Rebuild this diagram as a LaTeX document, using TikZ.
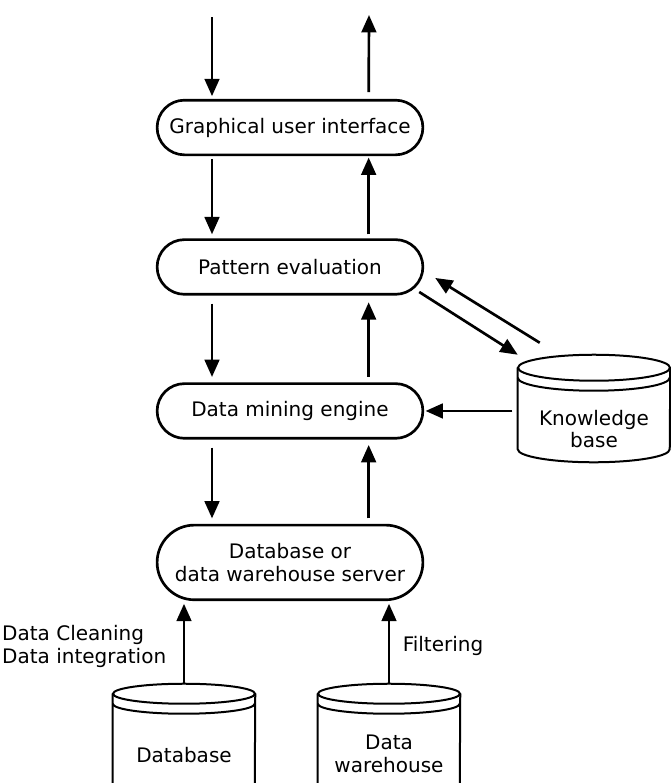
\documentclass[tikz,border=0pt]{standalone}
\usepackage{fontspec}
\setmainfont{DejaVu Sans}
\usetikzlibrary{arrows.meta, shapes.misc}

% drum outline drawn round a node: name, x radius, y radius
\newcommand{\drum}[3]{%
  \draw[drum] ([yshift=-#3]#1.north) ellipse [x radius=#2, y radius=#3];
  \draw[drum] ([yshift=-#3-7.5pt]#1.north west) arc [start angle=180, end angle=360, x radius=#2, y radius=#3];
  \draw[drum] ([yshift=-#3]#1.north west) -- ([yshift=#3]#1.south west)
    arc [start angle=180, end angle=360, x radius=#2, y radius=#3] -- ([yshift=-#3]#1.north east);
}

\begin{document}
\begin{tikzpicture}[x=0.75pt, y=-0.75pt, node distance=108pt,
    font=\fontsize{15}{17}\selectfont,
    box/.style={draw, line width=2pt, rounded rectangle, minimum width=206pt, minimum height=41pt, align=center},
    flow/.style={-{Triangle[length=13pt,width=11pt]}, line width=2pt},
    drum/.style={line width=1.5pt}]
        \useasboundingbox (0,0) rectangle (671,783);

        \node (GUI) [box] at (290,127.5)                                 {Graphical user interface};
        \node (PE)  [box, node distance=104.6pt, below of=GUI]            {Pattern evaluation};
        \node (DME) [box, below of=PE]                                    {Data mining engine};
        \node (S)   [box, minimum height=56pt, node distance=113.6pt, below of=DME] {Database or\\data warehouse server};

        \node (KB) [minimum width=114pt, minimum height=80.25pt] at (594,408.5) {};
        \node (DB) [minimum width=106.5pt, minimum height=87pt] at (184,742) {};
        \node (DW) [minimum width=106.5pt, minimum height=87pt] at (389,742) {};
        \drum{KB}{57pt}{9.75pt}
        \drum{DB}{53.25pt}{7.5pt}
        \drum{DW}{53.25pt}{7.5pt}
        \node (KBt) [align=center] at (594,429) {Knowledge\\base};
        \node (DBt)                at (184,755) {Database};
        \node (DWt) [align=center] at (389,754) {Data\\warehouse};

        \coordinate (in)  at (212,17);
        \coordinate (out) at (369,15);

        \draw[flow, shorten >=2pt] (in) -- ([xshift=-58.5pt]GUI.north);
        \draw[flow, shorten <=5pt] ([xshift=59pt]GUI.north) -- (out);
        \draw[flow, shorten <=2pt, shorten >=3pt] ([xshift=-58.5pt]GUI.south) -- ([xshift=-58.5pt]PE.north);
        \draw[flow, shorten <=3pt, shorten >=1pt] ([xshift=59pt]PE.north) -- ([xshift=59pt]GUI.south);
        \draw[flow, shorten <=6pt, shorten >=4pt] ([xshift=-58.5pt]PE.south) -- ([xshift=-58.5pt]DME.north);
        \draw[flow, shorten <=4pt, shorten >=5pt] ([xshift=59pt]DME.north) -- ([xshift=59pt]PE.south);
        \draw[flow, shorten <=6pt, shorten >=4pt] ([xshift=-58.5pt]DME.south) -- ([xshift=-58.5pt]S.north);
        \draw[flow, shorten <=4pt, shorten >=4pt] ([xshift=59pt]S.north) -- ([xshift=59pt]DME.south);

        \draw[flow, shorten <=4pt, shorten >=1pt] (KB.west |- DME.east) -- (DME.east);
        \draw[flow] ([shift={(-5,25)}]PE.east) -- (KB.north west);
        \draw[flow] ([shift={(22,-12)}]KB.north west) -- ([shift={(11,11)}]PE.east);

        \draw[flow, shorten >=2pt] (DB.north) -- (S.south -| DB.north)
            node[midway, left, align=left, xshift=-9pt, yshift=-3pt] {Data Cleaning\\Data integration};
        \draw[flow, shorten >=2pt] (DW.north) -- (S.south -| DW.north)
            node[midway, right, xshift=6pt, yshift=-3pt] {Filtering};
    \end{tikzpicture}
\end{document}
